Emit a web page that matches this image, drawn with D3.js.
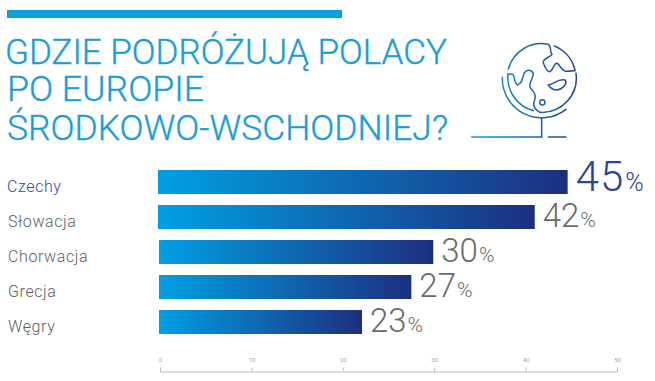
<!DOCTYPE html>
<html><head><meta charset="utf-8">
<script src="https://cdn.jsdelivr.net/npm/d3@7"></script>
<style>html,body{margin:0;padding:0;background:#fff}svg{display:block}</style>
</head><body><svg id="c" width="655" height="381"></svg>
<script>
const titleLines = ["GDZIE PODRÓŻUJĄ POLACY", "PO EUROPIE", "ŚRODKOWO-WSCHODNIEJ?"];
const categories = ["Czechy", "Słowacja", "Chorwacja", "Grecja", "Węgry"];
const labelValues = [45, 42, 30, 27, 23];
const barValues = [44.6, 41, 29.9, 27.5, 22.1];
const axisTicks = [0, 10, 20, 30, 40, 50];

const svg = d3.select("#c");
const font = "Roboto, sans-serif";
const defs = svg.append("defs");
const lg = defs.append("linearGradient").attr("id","g").attr("x1",0).attr("x2",1).attr("y1",0).attr("y2",0);
lg.append("stop").attr("offset",0).attr("stop-color","#009fe3");
lg.append("stop").attr("offset",1).attr("stop-color","#1d2f7f");
const lg2 = defs.append("linearGradient").attr("id","ig").attr("gradientUnits","userSpaceOnUse")
  .attr("x1",95).attr("x2",410).attr("y1",0).attr("y2",0);
lg2.append("stop").attr("offset",0).attr("stop-color","#12a0de");
lg2.append("stop").attr("offset",1).attr("stop-color","#23408f");

svg.append("rect").attr("x",7).attr("y",10).attr("width",335).attr("height",8).attr("fill","#0a9fe0");

const titleX=[5,7,7], titleY=[64,101,140], titleW=[442,197,441];
svg.selectAll("text.t").data(titleLines).join("text").attr("class","t")
  .attr("x",(d,i)=>titleX[i]).attr("y",(d,i)=>titleY[i])
  .attr("textLength",(d,i)=>titleW[i]).attr("lengthAdjust","spacingAndGlyphs")
  .attr("font-family",font).attr("font-weight",300).attr("font-size",35)
  .attr("fill","#1a9dd9").attr("stroke","#1a9dd9").attr("stroke-width",0.35).text(d=>d);

const x = d3.scaleLinear().domain([0,50]).range([160,617]);
const y = d3.scaleBand().domain(categories).range([170,334]).paddingInner(11/35).paddingOuter(0);

svg.selectAll("rect.b").data(categories).join("rect").attr("class","b")
  .attr("x",(d,i)=>x(0)-(i<2?2:1)).attr("y",d=>y(d)).attr("height",y.bandwidth())
  .attr("width",(d,i)=>x(barValues[i])-x(0)+(i<2?2:1)).attr("fill","url(#g)");

svg.selectAll("text.c").data(categories).join("text").attr("class","c")
  .attr("x",(d,i)=>i==0?7:8).attr("y",d=>y(d)+22)
  .attr("font-family",font).attr("font-weight",300).attr("font-size",16).attr("letter-spacing",0.6)
  .attr("fill",(d,i)=>i==0?"#2f4a9b":"#5f5f5f").text(d=>d);

const vals = svg.selectAll("text.v").data(categories).join("text").attr("class","v")
  .attr("x",(d,i)=>x(barValues[i])+8).attr("y",(d,i)=>y(d)+(i==0?21:22))
  .attr("font-family",font).attr("font-weight",300)
  .attr("fill",(d,i)=>i==0?"#2a4593":"#6b6b6b");
vals.append("tspan").attr("font-size",(d,i)=>i==0?42:33).attr("letter-spacing",(d,i)=>i==0?1:0).text((d,i)=>labelValues[i]);
vals.append("tspan").attr("font-size",(d,i)=>i==0?25:21).attr("dx",1).text("%");

const ax = svg.append("g").attr("transform","translate(0,371.5)")
  .call(d3.axisTop(x).tickValues(axisTicks).tickSize(4).tickPadding(6));
ax.selectAll("path,line").attr("stroke","#bdbdbd");
ax.selectAll("text").attr("font-family",font).attr("font-size",6).attr("fill","#aaa");

const globe = svg.append("g").attr("transform","translate(440,20) scale(0.3333)")
  .attr("fill","none").attr("stroke","url(#ig)").attr("stroke-width",4.5).attr("stroke-linecap","round");
[
 "M205,147 A103,103 0 0 1 325,73 C336,80 328,95 336,103 C330,112 308,115 310,128 C314,140 322,155 330,155 C340,150 342,130 350,130 C360,132 362,150 375,153 C385,155 395,152 405,152",
 "M343,78 A103,103 0 0 1 405,150",
 "M408,160 A103,103 0 0 1 300,277 C282,268 278,255 284,240 C290,225 282,215 272,205 C262,190 282,175 280,160 C272,145 258,150 252,160 C248,175 245,192 232,195 C222,190 226,170 218,163 L204,162",
 "M204,162 A103,103 0 0 0 280,272",
 "M325,195 C345,192 350,176 375,180 C385,190 365,210 350,210 C340,210 330,202 325,195Z",
 "M315,247 A8,8 0 1 1 299,247 A8,8 0 1 1 315,247Z",
 "M187,172 A118,118 0 0 0 378,268",
 "M305,295 L305,351",
 "M95,351 L305,351",
 "M325,351 L378,351"
].forEach(p=>globe.append("path").attr("d",p));
</script></body></html>
